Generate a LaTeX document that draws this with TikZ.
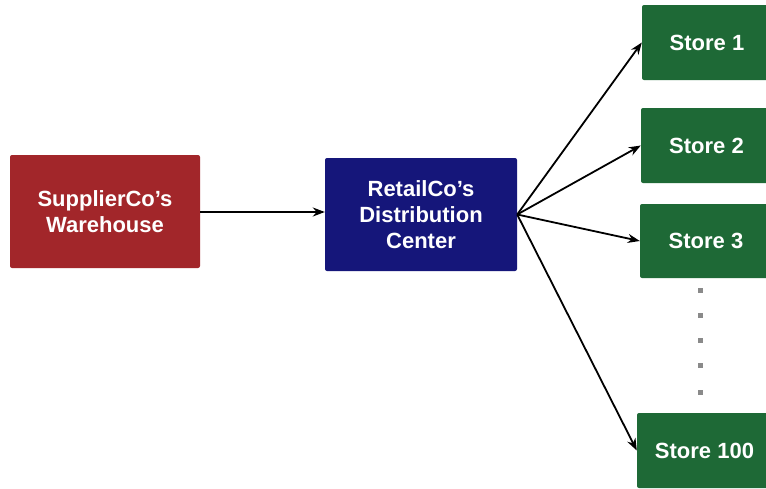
\documentclass[tikz,border=0pt]{standalone}
\usepackage{fontspec}
\setmainfont{Liberation Sans}
\usetikzlibrary{arrows.meta}
\definecolor{supplierred}{HTML}{A2262A}
\definecolor{dcblue}{HTML}{15167A}
\definecolor{storegreen}{HTML}{1E6936}
\definecolor{dotgray}{HTML}{8A8A8A}
\begin{document}
\begin{tikzpicture}[x=1pt,y=-1pt,
  box/.style={rectangle, rounded corners=2pt, inner sep=0pt, text=white, align=center,
    font=\bfseries\fontsize{22}{26}\selectfont},
  link/.style={line width=1.8pt, -{Stealth[length=12pt,width=9pt]}},
  dotmark/.style={rectangle, fill=dotgray, minimum size=5pt, inner sep=0pt}]
\useasboundingbox (0,0) rectangle (766,488);
\clip (0,0) rectangle (766,488);
\fill[white] (0,0) rectangle (766,488);

% source and hub
\node[box, fill=supplierred, minimum width=190pt, minimum height=113pt] (sup) at (105,211.5)
  {SupplierCo's\\Warehouse};
\node[box, fill=dcblue, minimum width=192pt, minimum height=113pt] (dc) at (421,214.5)
  {RetailCo's\\Distribution\\Center};

% stores (right edges run past the page)
\node[box, fill=storegreen, minimum width=130pt, minimum height=75pt] (s1) at (707,42.5) {Store 1};
\node[box, fill=storegreen, minimum width=131pt, minimum height=75pt] (s2) at (706.5,145.5) {Store 2};
\node[box, fill=storegreen, minimum width=132pt, minimum height=74pt] (s3) at (706,241) {Store 3};
\node[box, fill=storegreen, minimum width=135pt, minimum height=75pt] (s100) at (704.5,450.5) {Store 100};

% ellipsis between Store 3 and Store 100
\foreach \y [count=\i] in {290,315,340,365,392}
  \node[dotmark] (dot\i) at (700,\y) {};

% connectors
\draw[link] (sup.east |- 0,212) -- (dc.west |- 0,212);
\foreach \s in {s1,s2,s3,s100}
  \draw[link] (dc.east) -- (\s.west);
\end{tikzpicture}
\end{document}
